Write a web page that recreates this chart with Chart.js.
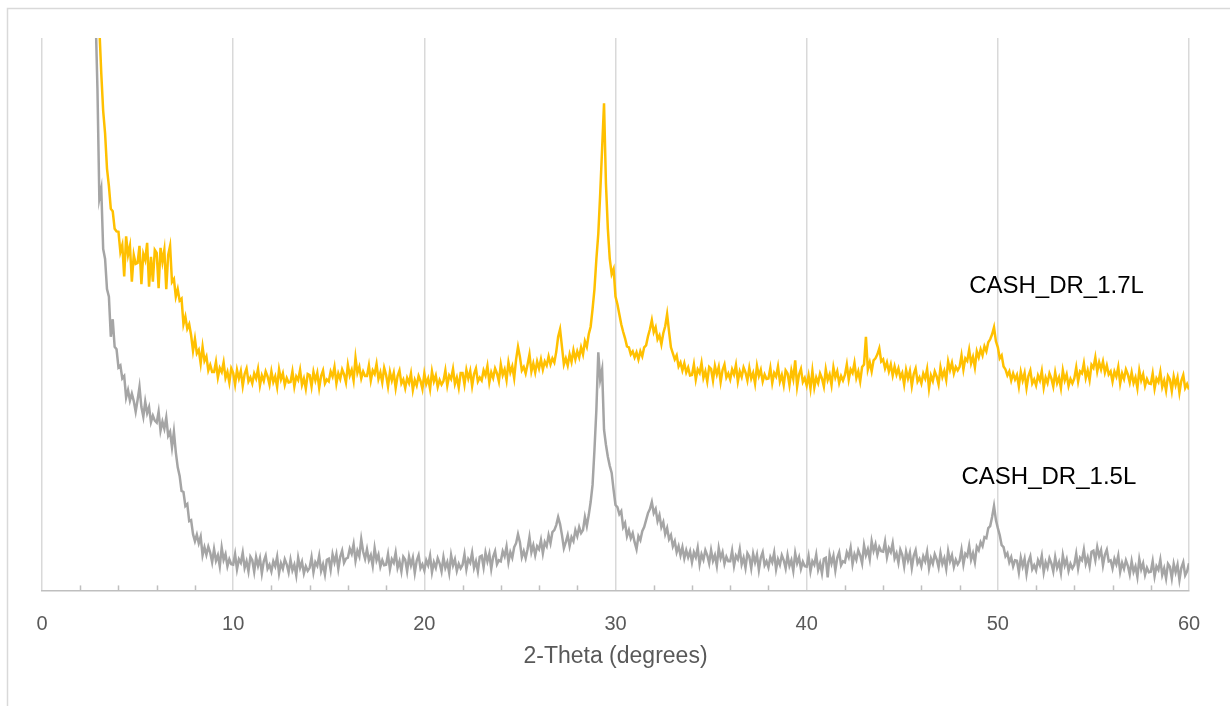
<!DOCTYPE html>
<html>
<head>
<meta charset="utf-8">
<script src="https://cdn.jsdelivr.net/npm/chart.js@4.4.1/dist/chart.umd.min.js"></script>
<style>
  html, body { margin: 0; padding: 0; background: #fff; }
  canvas { display: block; }
</style>
</head>
<body>
<canvas id="xrdChart" width="1230" height="706"></canvas>
<script>
// 2-theta grid: 2.8 to 60.0 deg, 0.1 deg step (one row = one degree)
const thetaStart = 2.8;
const thetaStep = 0.1;

const cash17 = [
  null, null,                                                   // 2.8
  112, 103, 95.5, 91, 84, 80.5, 76, 75.5, 72, 71.5,             // 3
  71.4, 67.4, 68.8, 62.5, 70.5, 66.8, 68.6, 61.5, 66.8, 65,     // 4
  65.2, 68.6, 61, 67, 65.8, 69.2, 60.5, 66.4, 61.5, 67.8,       // 5
  67.2, 60.2, 68.2, 65.4, 67.8, 60, 66.8, 68.6, 61.4, 62,       // 6
  58.5, 60, 57.7, 58.1, 53, 54.5, 52.1, 53, 50.8, 47.7,         // 7
  50.1, 47.2, 47.9, 45.2, 48.5, 45.7, 46.6, 43.8, 44.9, 43.5,   // 8
  43.5, 45.5, 42.4, 44.3, 43.5, 45.4, 42.3, 43.5, 41.4, 44.2,   // 9
  43.3, 41, 43.9, 42.2, 43.7, 40.7, 43.1, 44.2, 41.6, 42.4,     // 10
  41.2, 43.2, 42.2, 44.1, 40.8, 42.8, 41.7, 43.6, 42.6, 41,     // 11
  43.6, 41.5, 42.6, 40.5, 44, 42, 43.2, 40.9, 42.3, 41.4,       // 12
  41.5, 43.6, 40.6, 42.6, 41.9, 43.9, 40.9, 42.2, 40.2, 43.1,   // 13
  42.9, 40.6, 43.5, 41.8, 43.3, 40.3, 42.7, 43.8, 41.2, 42,     // 14
  41.6, 43.6, 42.6, 44.5, 41.2, 43.2, 42.1, 44, 43, 41.4,       // 15
  44.9, 42.8, 43.9, 41.8, 46.3, 43.3, 44.5, 42.2, 43.6, 42.7,   // 16
  42.7, 44.8, 41.8, 43.8, 43.1, 45.1, 42.1, 43.4, 41.4, 44.3,   // 17
  42.9, 40.6, 43.5, 41.8, 43.3, 40.3, 42.7, 43.8, 41.2, 42,     // 18
  40.3, 42.3, 41.3, 43.2, 39.9, 41.9, 40.8, 42.7, 41.7, 40.1,   // 19
  43.2, 41.1, 42.2, 40.1, 43.6, 41.6, 42.8, 40.5, 41.9, 41,     // 20
  41.7, 43.8, 40.8, 42.8, 42.1, 44.1, 41.1, 42.4, 40.4, 43.3,   // 21
  43.3, 41, 43.9, 42.2, 43.7, 40.7, 43.1, 44.2, 41.6, 42.4,     // 22
  41.8, 43.8, 42.8, 44.7, 41.4, 43.4, 42.3, 44.2, 43.2, 41.6,   // 23
  45, 42.9, 44, 41.9, 45.4, 43.4, 44.6, 42.3, 46, 48.5,         // 24
  46.5, 43.8, 44.5, 43.2, 45, 47, 43.6, 45.2, 43.4, 45.6,       // 25
  44.2, 46, 44, 45.6, 44.8, 46.6, 45, 46.2, 45.4, 47.5,         // 26
  50.5, 52, 48.5, 45, 46.2, 44.8, 47, 45.5, 47.8, 46,           // 27
  47.6, 46.4, 48.4, 47, 49.6, 48.5, 51, 52.5, 56, 60,           // 28
  66, 71, 79, 88, 97, 81, 72, 66, 63, 64,                       // 29
  58.5, 57, 55, 53, 51.5, 50.2, 48.6, 48.4, 47, 47.6,           // 30
  46.4, 47.4, 46, 47.6, 46.6, 48.4, 48.8, 50.6, 52, 53.8,       // 31
  51.4, 52.4, 50, 50.8, 49, 51.2, 52.6, 55, 51.6, 48.4,         // 32
  47.2, 46, 46.8, 44.6, 45.4, 43.8, 45.2, 43.4, 44.4, 42.8,     // 33
  42.9, 45, 42, 44, 43.3, 45.3, 42.3, 43.6, 41.6, 44.5,         // 34
  44.1, 41.8, 44.7, 43, 44.5, 41.5, 43.9, 45, 42.4, 43.2,       // 35
  42, 44, 43, 44.9, 41.6, 43.6, 42.5, 44.4, 43.4, 41.8,         // 36
  44.3, 42.2, 43.3, 41.2, 44.7, 42.7, 43.9, 41.6, 43, 42.1,     // 37
  42.2, 44.3, 41.3, 43.3, 42.6, 44.6, 41.6, 42.9, 40.9, 43.8,   // 38
  43.2, 40.9, 43.8, 42.1, 45.8, 40.6, 43, 44.1, 41.5, 42.3,     // 39
  40.8, 42.8, 40.2, 43.7, 40.4, 42.4, 41.3, 43.2, 42.2, 40.6,   // 40
  44, 41.9, 43, 40.9, 44.4, 42.4, 43.6, 41.3, 42.7, 41.8,       // 41
  42.9, 45, 42, 44, 43.3, 45.3, 42.3, 43.6, 41.6, 44.5,         // 42
  45, 50.5, 44, 45.4, 43.6, 45.8, 46.2, 47, 48.2, 45.6,         // 43
  46, 44.2, 45.4, 43.6, 45, 42.8, 44.6, 43, 44.2, 42.4,         // 44
  43.3, 41, 43.9, 42.2, 43.7, 40.7, 43.1, 44.2, 41.6, 42.4,     // 45
  41.2, 43.2, 42.2, 44.1, 40.2, 42.8, 41.7, 43.6, 42.6, 41,     // 46
  44.4, 42.5, 43.7, 41.9, 45.6, 43.9, 45.3, 43.2, 44.5, 43.8,   // 47
  44.5, 46.8, 44, 46.2, 45.7, 47.9, 45.2, 46.5, 44.4, 47.6,     // 48
  46.4, 48, 46.8, 48.6, 47.6, 49.4, 50, 51, 52.4, 49.6,         // 49
  48.4, 46.2, 46.8, 44.6, 44, 42.8, 43.6, 41.8, 43.2, 42,       // 50
  42.9, 40.6, 43.5, 41.8, 43.3, 40.3, 42.7, 43.8, 41.2, 42,     // 51
  40.8, 42.8, 41.8, 43.7, 40.4, 42.4, 41.3, 43.2, 42.2, 40.6,   // 52
  43.4, 41.3, 42.4, 40.3, 43.8, 41.8, 43, 40.7, 42.1, 41.2,     // 53
  42.2, 44.4, 41.6, 43.6, 43.2, 45.2, 42.3, 43.8, 41.9, 44.9,   // 54
  44.3, 46.4, 43.6, 45.4, 44, 45.6, 43.4, 44.8, 43, 43.6,       // 55
  41.6, 43.6, 42.6, 44.5, 41.2, 43.2, 42.1, 44, 43, 41.4,       // 56
  43.4, 41.3, 42.4, 40.3, 43.8, 41.8, 43, 40.7, 42.1, 41.2,     // 57
  41.1, 43.2, 40.2, 42.2, 41.5, 43.5, 40.5, 41.8, 39.8, 42.7,   // 58
  42, 39.7, 42.6, 40.9, 42.4, 39.4, 41.8, 42.9, 40.3, 41.1,     // 59
  40                                                            // 60
];

const cash15 = [
  115, 100,                                                     // 2.8
  78, 80, 68, 66, 60, 58.5, 50.5, 54, 48.5, 48,                 // 3
  44.4, 44.8, 42.2, 42.7, 38.4, 39.9, 37.8, 39.2, 37.7, 35.6,   // 4
  37.9, 40.5, 36.5, 34.6, 37.6, 35.3, 36.5, 33.5, 34.8, 33.8,   // 5
  33.4, 35.6, 31.8, 33.6, 32.2, 34.4, 30.8, 31.6, 28.5, 31.6,   // 6
  27.5, 24.5, 22.8, 19.8, 19.6, 16.8, 17.2, 13.8, 14, 11.2,     // 7
  9.8, 11.1, 9.4, 10.7, 7, 8.6, 7.1, 8.7, 7.5, 5.6,             // 8
  8.2, 5.9, 7, 4.8, 8.5, 6.1, 7.2, 4.8, 6.2, 5.2,               // 9
  5.1, 7.2, 4.2, 6.2, 5.5, 7.5, 4.5, 5.8, 3.8, 6.7,             // 10
  6, 3.7, 6.6, 4.9, 6.4, 3.4, 5.8, 6.9, 4.3, 5.1,               // 11
  3.8, 5.8, 4.8, 6.7, 3.4, 5.4, 4.3, 6.2, 5.2, 3.6,             // 12
  6.1, 4, 5.1, 3, 6.5, 4.5, 5.7, 3.4, 4.8, 3.9,                 // 13
  4.5, 6.6, 3.6, 5.6, 4.9, 6.9, 3.9, 5.2, 3.2, 6.1,             // 14
  6.3, 4.1, 7.2, 5.6, 7.2, 4.3, 6.7, 7.9, 5.5, 6.3,             // 15
  6.5, 8.3, 7.3, 9.2, 5.9, 7.9, 6.8, 10.2, 7.7, 6.3,            // 16
  8.2, 6, 7, 4.9, 8.4, 6, 7.1, 4.7, 6, 5,                       // 17
  5.1, 7.2, 4.2, 6.2, 5.5, 7.5, 4.5, 5.8, 3.8, 6.7,             // 18
  6.1, 3.8, 6.7, 5, 6.5, 3.5, 5.9, 7, 4.4, 5.2,                 // 19
  4, 6, 5, 6.9, 3.6, 5.6, 4.5, 6.4, 5.4, 3.8,                   // 20
  6.6, 4.5, 5.6, 3.5, 7, 5, 6.2, 3.9, 5.3, 4.4,                 // 21
  5.1, 7.2, 4.2, 6.2, 5.5, 7.5, 4.5, 5.8, 3.8, 6.7,             // 22
  6.9, 4.6, 7.5, 5.8, 7.3, 4.3, 6.7, 7.8, 5.2, 6,               // 23
  5.8, 7.8, 6.8, 8.7, 5.6, 7.6, 6.5, 8.6, 9.4, 11.2,            // 24
  9.6, 6.6, 7.8, 6.4, 8.2, 10.6, 7.6, 9, 7, 8.8,                // 25
  8.2, 10, 7.4, 9.6, 8.8, 11, 9.4, 11.6, 12, 13,                // 26
  14.6, 13.2, 11, 8.4, 9.6, 11, 8.8, 10.6, 9.8, 12,             // 27
  10.8, 12.6, 11.4, 12, 14.6, 12.8, 15, 17.6, 21, 28,           // 28
  36, 47.4, 42, 44, 32, 29, 26.6, 24.8, 23.4, 20,               // 29
  17, 16.6, 15.2, 15.8, 12.6, 13.4, 10.8, 12, 10.4, 11.4,       // 30
  9.6, 8.2, 10.8, 10, 11.8, 12.6, 14, 15.4, 16.2, 17.6,         // 31
  15.4, 16.2, 13.8, 15, 12.6, 13.6, 11.2, 12.4, 10.2, 11,       // 32
  8.8, 9.8, 7.6, 8.8, 7, 8.6, 6.4, 8, 6.6, 7.8,                 // 33
  5.6, 7.6, 6.6, 8.5, 5.2, 7.2, 6.1, 8, 7, 5.4,                 // 34
  8, 5.9, 7, 4.9, 8.4, 6.4, 7.6, 5.3, 6.7, 5.8,                 // 35
  5.8, 7.9, 4.9, 6.9, 6.2, 8.2, 5.2, 6.5, 4.5, 7.4,             // 36
  6.7, 4.4, 7.3, 5.6, 7.1, 4.1, 6.5, 7.6, 5, 5.8,               // 37
  4.6, 6.6, 5.6, 7.5, 4.2, 6.2, 5.1, 7, 6, 4.4,                 // 38
  7, 4.9, 6, 3.9, 7.4, 5.4, 6.6, 4.3, 5.7, 4.8,                 // 39
  4.7, 6.8, 3.8, 5.8, 5.1, 7.1, 4.1, 5.4, 3.4, 6.3,             // 40
  6.5, 2.6, 7.1, 5.4, 6.9, 4, 6.5, 7.6, 5, 5.8,                 // 41
  5.6, 7.6, 6.6, 8.5, 5.2, 7.2, 6.1, 8, 7, 5.4,                 // 42
  9, 7, 8.2, 6.2, 9.8, 7.9, 9.2, 7.1, 8.6, 7.8,                 // 43
  7.7, 9.7, 6.6, 8.4, 7.6, 9.4, 6.4, 7.4, 5.5, 8.1,             // 44
  7.1, 4.8, 7.7, 6, 7.5, 4.5, 6.9, 8, 5.4, 6.2,                 // 45
  4.8, 6.8, 5.8, 7.7, 4.4, 6.4, 5.3, 7.2, 6.2, 4.6,             // 46
  7.4, 5.3, 6.4, 4.3, 7.8, 5.8, 7, 4.7, 6.1, 5.2,               // 47
  5.9, 8.1, 5.2, 7.3, 6.8, 8.9, 6.1, 7.4, 5.6, 8.7,             // 48
  8, 9.6, 8.8, 10.6, 10.4, 12.4, 12.8, 14.6, 16.8, 14,          // 49
  12.4, 11, 9, 8.6, 6.8, 7.4, 5.6, 6.6, 4.8, 6,                 // 50
  5.9, 3.6, 6.5, 4.8, 6.3, 3.3, 5.7, 6.8, 4.2, 5,               // 51
  4, 6, 5, 6.9, 3.6, 5.6, 4.5, 6.4, 5.4, 3.8,                   // 52
  6.6, 4.5, 5.6, 3.5, 7, 5, 6.2, 3.9, 5.3, 4.4,                 // 53
  5.1, 7.3, 4.4, 6.5, 6, 8.1, 5.3, 6.6, 4.8, 7.7,               // 54
  7.9, 6, 8.6, 6.8, 8, 5, 7.1, 8.1, 5.8, 6,                     // 55
  4.4, 6.3, 5.2, 6.9, 3.7, 5.5, 4.3, 6, 4.9, 3.2,               // 56
  5.8, 3.7, 4.8, 2.7, 6.2, 4.2, 5.4, 3.1, 4.5, 3.6,             // 57
  3.7, 5.8, 2.8, 4.8, 4.1, 6.1, 3.1, 4.4, 2.4, 5.3,             // 58
  4.7, 2.4, 5.3, 3.6, 5.1, 2.1, 4.5, 5.6, 3, 3.8,               // 59
  5.4                                                           // 60
];

const xTickLabels = [0, 10, 20, 30, 40, 50, 60];
const seriesNames = ['CASH_DR_1.7L', 'CASH_DR_1.5L'];
// where each series name sits, in data units
const seriesNameSpots = [{ x: 48.5, y: 60.6 }, { x: 48.1, y: 22.5 }];

const twoTheta = cash17.map((_, i) => +(thetaStart + i * thetaStep).toFixed(1));
const toPoints = (values) => values.map((v, i) => ({ x: twoTheta[i], y: v }));

const frame = {
    id: 'frame',
    beforeDraw(chart) {
        const ctx = chart.ctx;
        ctx.save();
        ctx.fillStyle = '#fff';
        ctx.fillRect(0, 0, chart.width, chart.height);
        ctx.strokeStyle = '#d9d9d9';
        ctx.lineWidth = 1.5;
        ctx.strokeRect(7.5, 8.5, chart.width, chart.height);
        ctx.restore();
    }
};

const minorTicks = {
    id: 'minorTicks',
    afterDraw(chart) {
        const x = chart.scales.x;
        const ctx = chart.ctx;
        ctx.save();
        ctx.strokeStyle = '#bfbfbf';
        ctx.lineWidth = 1.5;
        for (let v = 2; v < 60; v += 2) {
            if (v % 10 === 0) continue;
            const px = Math.round(x.getPixelForValue(v)) + 0.5;
            ctx.beginPath();
            ctx.moveTo(px, x.top);
            ctx.lineTo(px, x.top - 5);
            ctx.stroke();
        }
        ctx.restore();
    }
};

const seriesLabels = {
    id: 'seriesLabels',
    afterDatasetsDraw(chart) {
        const ctx = chart.ctx;
        ctx.save();
        ctx.font = '24px "Liberation Sans", Arial, sans-serif';
        ctx.fillStyle = '#000';
        ctx.textAlign = 'left';
        ctx.textBaseline = 'middle';
        seriesNames.forEach((name, i) => {
            const spot = seriesNameSpots[i];
            ctx.fillText(name, chart.scales.x.getPixelForValue(spot.x), chart.scales.y.getPixelForValue(spot.y));
        });
        ctx.restore();
    }
};

const createXrdChart = () => {
    const ctx = document.getElementById('xrdChart').getContext('2d');

    new Chart(ctx, {
        type: 'line',
        data: {
            datasets: [{
                label: seriesNames[0],
                data: toPoints(cash17),
                borderColor: '#FFC000',
                borderWidth: 2.5,
                pointRadius: 0,
                tension: 0,
                spanGaps: false
            }, {
                label: seriesNames[1],
                data: toPoints(cash15),
                borderColor: '#A5A5A5',
                borderWidth: 2.5,
                pointRadius: 0,
                tension: 0
            }]
        },
        options: {
            responsive: false,
            animation: false,
            layout: { padding: { left: 42, right: 41, top: 38, bottom: 36 } },
            plugins: {
                legend: { display: false },
                tooltip: { enabled: false }
            },
            scales: {
                x: {
                    type: 'linear',
                    min: 0,
                    max: 60,
                    border: { color: '#bfbfbf', width: 1.5 },
                    grid: {
                        drawTicks: false,
                        lineWidth: 1.5,
                        color: (c) => (c.tick && xTickLabels.includes(c.tick.value)) ? '#d9d9d9' : 'rgba(0,0,0,0)'
                    },
                    ticks: {
                        stepSize: 2,
                        autoSkip: false,
                        maxRotation: 0,
                        padding: 22,
                        color: '#595959',
                        font: { family: '"Liberation Sans", Arial, sans-serif', size: 20 },
                        callback: (v) => xTickLabels.includes(v) ? String(v) : ''
                    },
                    title: {
                        display: true,
                        text: '2-Theta (degrees)',
                        color: '#595959',
                        font: { family: '"Liberation Sans", Arial, sans-serif', size: 23 },
                        padding: { top: -16, bottom: 0 }
                    }
                },
                y: {
                    display: false,
                    min: 0,
                    max: 110
                }
            }
        },
        plugins: [frame, minorTicks, seriesLabels]
    });
};

createXrdChart();
</script>
</body>
</html>
